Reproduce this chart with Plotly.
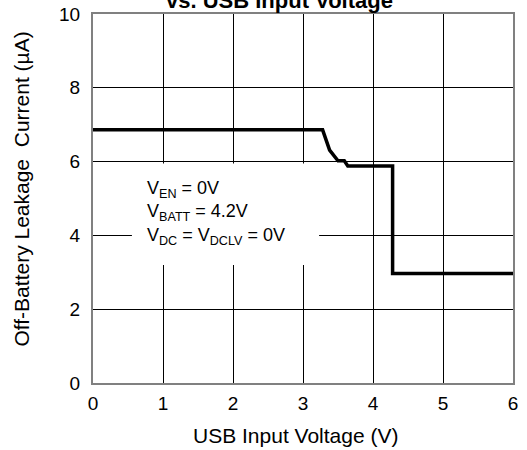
import plotly.graph_objects as go

usb_voltage = [0.0, 3.28, 3.38, 3.50, 3.59, 3.64, 4.28, 4.28, 6.0]
leakage_current = [6.86, 6.86, 6.31, 6.02, 6.02, 5.88, 5.88, 2.97, 2.97]
x_ticks = [0, 1, 2, 3, 4, 5, 6]
y_ticks = [0, 2, 4, 6, 8, 10]

FONT = "Liberation Sans, Arial, sans-serif"

fig = go.Figure()
fig.add_trace(go.Scatter(x=usb_voltage, y=leakage_current, mode="lines",
                         line=dict(color="black", width=3.5), showlegend=False,
                         hoverinfo="skip"))

fig.add_shape(type="rect", xref="x", yref="y", x0=0.556, x1=3.23, y0=3.2, y1=5.95,
              fillcolor="white", line=dict(width=0), layer="between")

fig.add_annotation(xref="x", yref="y", x=0.74, y=5.6, xanchor="left", yanchor="top",
                   align="left", showarrow=False,
                   text="V<sub>EN</sub> = 0V<br>V<sub>BATT</sub> = 4.2V<br>V<sub>DC</sub> = V<sub>DCLV</sub> = 0V",
                   font=dict(family=FONT, size=18, color="black"))

fig.add_annotation(xref="paper", yref="paper", x=0.445, y=1.0, yshift=-1, yanchor="bottom",
                   showarrow=False, text="<b>vs. USB Input Voltage</b>",
                   font=dict(family=FONT, size=22, color="black"))

fig.add_annotation(xref="paper", yref="paper", x=0.481, y=0, yshift=-39, yanchor="top",
                   showarrow=False, text="USB Input Voltage (V)",
                   font=dict(family=FONT, size=21, color="black"))

fig.add_annotation(xref="paper", yref="paper", x=0, xshift=-72, xanchor="center",
                   y=0.5, yshift=9, yanchor="middle",
                   textangle=-90, showarrow=False, text="Off-Battery Leakage  Current (µA)",
                   font=dict(family=FONT, size=21, color="black"))

axis_common = dict(showline=True, linecolor="#808080", linewidth=2, mirror=True,
                   showgrid=True, gridcolor="black", gridwidth=1, zeroline=False,
                   ticks="", tickfont=dict(family=FONT, size=19, color="black"),
                   fixedrange=True, automargin=False)

fig.update_xaxes(range=[0, 6], tickvals=x_ticks, ticktext=[str(v) for v in x_ticks],
                 ticklabelstandoff=2, **axis_common)
fig.update_yaxes(range=[0, 10], tickvals=y_ticks, ticktext=[str(v) for v in y_ticks],
                 ticklabelstandoff=7, **axis_common)

fig.update_layout(width=527, height=450, margin=dict(l=93, r=14, t=14, b=67),
                  plot_bgcolor="white", paper_bgcolor="white",
                  font=dict(family=FONT, color="black"))

fig.write_html("out.html")
